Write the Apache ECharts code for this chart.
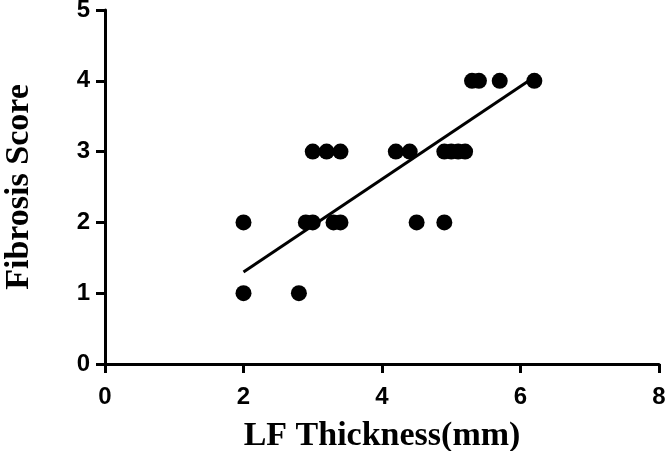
<!DOCTYPE html>
<html><head><meta charset="utf-8">
<script src="https://cdn.jsdelivr.net/npm/echarts@6/dist/echarts.min.js"></script>
<style>html,body{margin:0;padding:0;background:#fff}#c{width:666px;height:451px}</style>
</head><body><div id="c"></div>
<script>
// LF thickness (mm) and fibrosis score for each sample
var thickness = [2.0, 2.8, 2.0, 2.9, 3.0, 3.3, 3.4, 4.5, 4.9, 3.0, 3.2, 3.4, 4.2, 4.4, 4.9, 5.0, 5.1, 5.2, 5.3, 5.4, 5.7, 6.2];
var score     = [1,   1,   2,   2,   2,   2,   2,   2,   2,   3,   3,   3,   3,   3,   3,   3,   3,   3,   4,   4,   4,   4];
// fitted regression line endpoints
var fitX = [2.0, 6.12];
var fitY = [1.30, 4.0];
var xTicks = [0, 2, 4, 6, 8];
var yTicks = [0, 1, 2, 3, 4, 5];

var pts = thickness.map(function (x, i) { return [x, score[i]]; });
var fit = fitX.map(function (x, i) { return [x, fitY[i]]; });

var chart = echarts.init(document.getElementById('c'), null, {renderer: 'canvas'});
var tickFont = {fontFamily: '"Liberation Sans Narrow", "Liberation Sans", Arial, sans-serif', fontWeight: 'bold', fontSize: 24, color: '#000'};
var axisCommon = {
  axisLine: {show: true, onZero: false, lineStyle: {color: '#000', width: 3}},
  axisTick: {show: true, length: 9, lineStyle: {color: '#000', width: 3}},
  splitLine: {show: false},
  nameLocation: 'middle',
  nameTextStyle: {fontFamily: 'Liberation Serif', fontWeight: 'bold', fontSize: 34, color: '#000'}
};
chart.setOption({
  animation: false,
  grid: {left: 105, right: 7, top: 10, bottom: 87, containLabel: false, outerBoundsMode: 'none'},
  xAxis: Object.assign({}, axisCommon, {
    type: 'value', min: xTicks[0], max: xTicks[xTicks.length - 1], interval: 2,
    name: 'LF Thickness(mm)', nameGap: 55,
    axisLabel: Object.assign({margin: 21}, tickFont)
  }),
  yAxis: Object.assign({}, axisCommon, {
    type: 'value', min: yTicks[0], max: yTicks[yTicks.length - 1], interval: 1,
    name: 'Fibrosis Score', nameGap: 69,
    axisLabel: Object.assign({margin: 15}, tickFont)
  }),
  series: [
    {type: 'line', data: fit, symbol: 'none', lineStyle: {color: '#000', width: 3}, z: 2},
    {type: 'scatter', data: pts, symbol: 'circle', symbolSize: 16, itemStyle: {color: '#000', opacity: 1}, z: 3}
  ]
});
</script></body></html>
